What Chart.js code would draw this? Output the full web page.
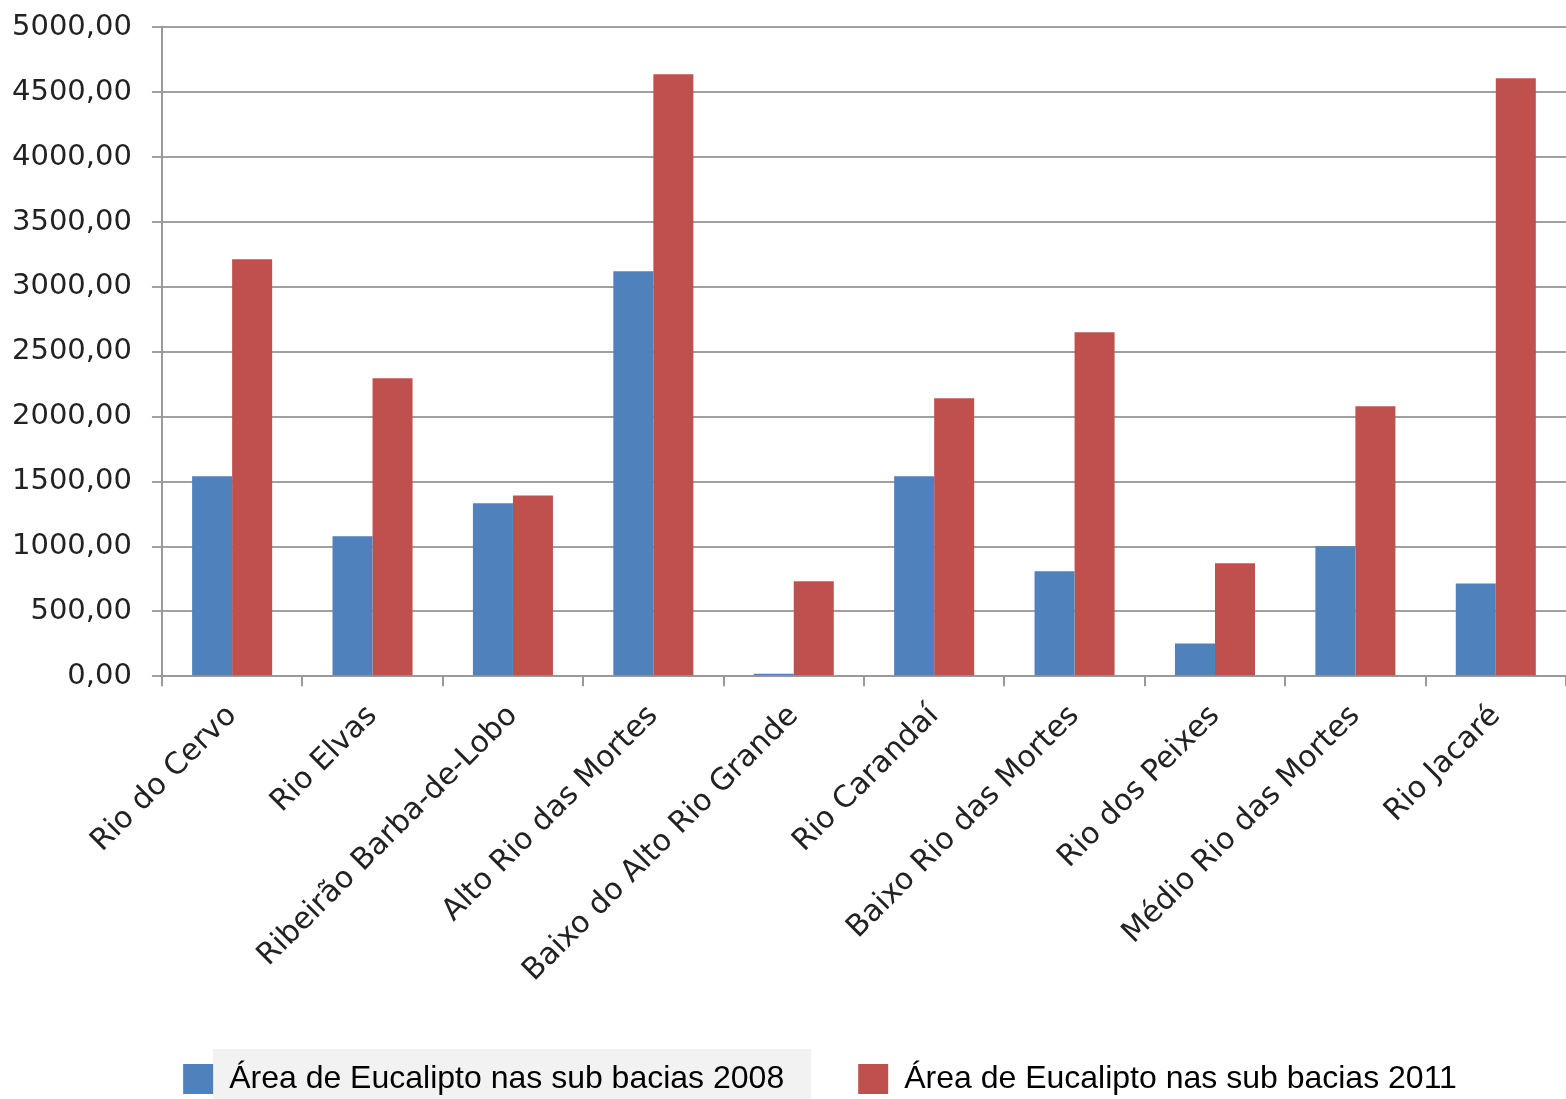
<!DOCTYPE html>
<html>
<head>
<meta charset="utf-8">
<script src="https://cdn.jsdelivr.net/npm/chart.js"></script>
<style>
  html, body { margin: 0; padding: 0; background: #fff; }
  #wrap { width: 1566px; height: 1099px; }
</style>
</head>
<body>
<div id="wrap"><canvas id="eucChart" width="1566" height="1099"></canvas></div>
<script>
// sub-bacias
const subBacias = ['Rio do Cervo', 'Rio Elvas', 'Ribeirão Barba-de-Lobo', 'Alto Rio das Mortes',
  'Baixo do Alto Rio Grande', 'Rio Carandaí', 'Baixo Rio das Mortes', 'Rio dos Peixes',
  'Médio Rio das Mortes', 'Rio Jacaré'];
const area2008 = [1541, 1079, 1333, 3120, 20, 1541, 809, 254, 1002, 716];
const area2011 = [3213, 2296, 1394, 4638, 732, 2142, 2650, 871, 2080, 4607];
const yMin = 0, yMax = 5000, yStep = 500;

// nudge legend a bit + grey box behind first entry
const legendTweaks = {
  id: 'legendTweaks',
  afterLayout(chart) {
    const lg = chart.legend;
    if (!lg) return;
    lg.left += 41;
    lg.right += 41;
    lg.top -= 12;
    lg.bottom -= 12;
  },
  beforeDraw(chart) {
    const lg = chart.legend;
    if (!lg || !lg.legendHitBoxes || !lg.legendHitBoxes.length) return;
    const hb = lg.legendHitBoxes[0];
    const c = chart.ctx;
    c.save();
    c.fillStyle = '#f2f2f2';
    c.fillRect(hb.left + 30, hb.top - 14, hb.width - 3, chart.height - (hb.top - 14));
    c.restore();
  }
};

const ctx = document.getElementById('eucChart').getContext('2d');
const eucChart = new Chart(ctx, {
  type: 'bar',
  data: {
    labels: subBacias,
    datasets: [{
      label: 'Área de Eucalipto nas sub bacias 2008',
      data: area2008,
      backgroundColor: '#4F81BD',
      barPercentage: 1,
      categoryPercentage: 0.57
    }, {
      label: 'Área de Eucalipto nas sub bacias 2011',
      data: area2011,
      backgroundColor: '#C0504D',
      barPercentage: 1,
      categoryPercentage: 0.57
    }]
  },
  options: {
    responsive: false,
    animation: false,
    layout: { padding: { top: 0, right: 0, left: -8, bottom: -18 } },
    plugins: {
      legend: {
        position: 'bottom',
        labels: {
          font: { family: 'Liberation Sans', size: 32 },
          color: '#000',
          boxWidth: 30,
          boxHeight: 30,
          padding: 74
        }
      },
      tooltip: { enabled: false }
    },
    scales: {
      x: {
        grid: {
          drawOnChartArea: false,
          drawTicks: true,
          tickLength: 10,
          offset: true,
          color: '#999',
          lineWidth: 2
        },
        border: { color: '#999', width: 2 },
        ticks: {
          minRotation: 45,
          maxRotation: 45,
          padding: 12,
          color: '#222',
          font: { family: 'DejaVu Sans', size: 30 }
        }
      },
      y: {
        min: yMin,
        max: yMax,
        grid: { color: '#a0a0a0', lineWidth: 2, tickLength: 10 },
        border: { color: '#999', width: 2 },
        ticks: {
          stepSize: yStep,
          padding: 20,
          color: '#222',
          font: { family: 'DejaVu Sans', size: 29, lineHeight: 0.5 },
          callback: v => v.toFixed(2).replace('.', ',')
        }
      }
    }
  },
  plugins: [legendTweaks]
});
</script>
</body>
</html>
